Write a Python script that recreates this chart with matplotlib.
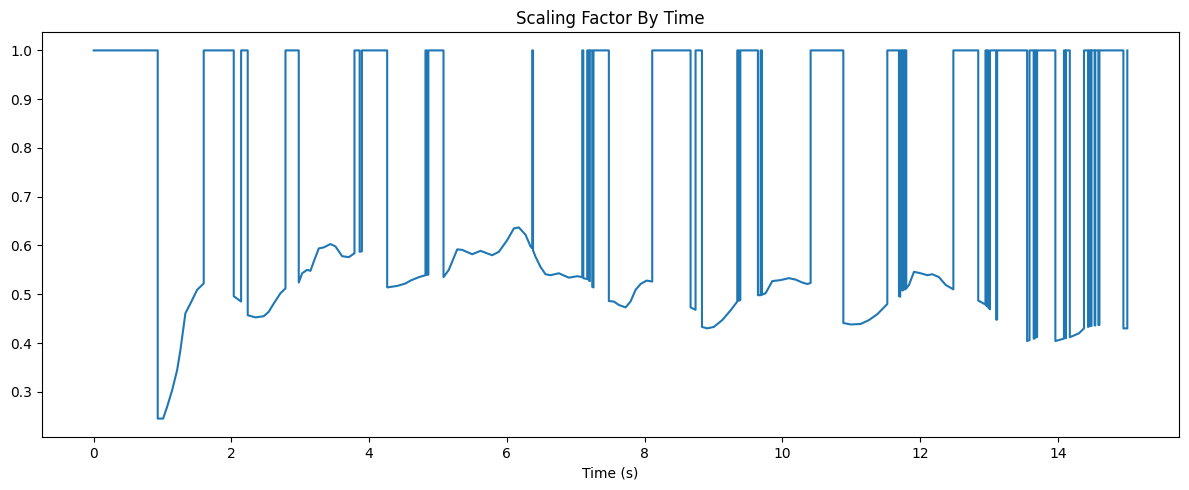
import matplotlib
matplotlib.use("Agg")
import matplotlib.pyplot as plt

time_s = [
    0.00, 0.93, 0.93, 1.008, 1.066, 1.139, 1.211, 1.259, 1.298, 1.332, 1.405, 1.502, 1.598, 1.598,
    2.034, 2.034, 2.141, 2.141, 2.237, 2.237, 2.349, 2.470, 2.542, 2.615, 2.712, 2.785, 2.785,
    2.978, 2.978, 3.027, 3.100, 3.148, 3.196, 3.269, 3.341, 3.438, 3.511, 3.608, 3.705, 3.787, 3.787,
    3.862, 3.862, 3.895, 3.895,
    4.262, 4.262, 4.407, 4.528, 4.601, 4.721, 4.818, 4.818, 4.838, 4.838, 4.860, 4.860,
    5.080, 5.080, 5.157, 5.279, 5.351, 5.497, 5.617, 5.787, 5.884, 6.005, 6.102, 6.174, 6.271, 6.344,
    6.368, 6.368, 6.380, 6.380, 6.416, 6.489, 6.561, 6.634, 6.755, 6.900, 7.022, 7.095, 7.095,
    7.110, 7.110, 7.167, 7.167, 7.191, 7.191, 7.205, 7.205, 7.240, 7.240, 7.258, 7.258,
    7.481, 7.481, 7.554, 7.627, 7.724, 7.796, 7.869, 7.942, 8.029, 8.111, 8.111,
    8.668, 8.668, 8.740, 8.740, 8.833, 8.833, 8.910, 9.006, 9.128, 9.249, 9.346, 9.346,
    9.370, 9.370, 9.390, 9.390, 9.646, 9.646, 9.685, 9.685, 9.705, 9.705,
    9.757, 9.855, 9.975, 10.096, 10.193, 10.290, 10.363, 10.411, 10.411,
    10.886, 10.886, 10.992, 11.137, 11.258, 11.379, 11.525, 11.525,
    11.694, 11.694, 11.712, 11.712, 11.740, 11.740, 11.752, 11.752, 11.775, 11.775, 11.786, 11.786,
    11.800, 11.800, 11.839, 11.912, 12.009, 12.106, 12.179, 12.276, 12.373, 12.484, 12.484,
    12.845, 12.845, 12.950, 12.950, 12.965, 12.965, 12.975, 12.975, 12.990, 12.990, 13.016, 13.016,
    13.105, 13.105, 13.120, 13.120,
    13.555, 13.555, 13.590, 13.590, 13.650, 13.650, 13.665, 13.665, 13.685, 13.685, 13.700, 13.700,
    13.965, 13.965, 14.090, 14.090, 14.110, 14.110, 14.120, 14.120, 14.175, 14.175,
    14.212, 14.309, 14.381, 14.381, 14.440, 14.440, 14.455, 14.455, 14.480, 14.480, 14.490, 14.490,
    14.535, 14.535, 14.545, 14.545, 14.590, 14.590, 14.605, 14.605,
    14.953, 14.953, 15.010, 15.010,
]

scaling_factor = [
    1.0, 1.0, 0.245, 0.245, 0.269, 0.303, 0.344, 0.385, 0.426, 0.461, 0.481, 0.509, 0.522, 1.0,
    1.0, 0.496, 0.485, 1.0, 1.0, 0.457, 0.4525, 0.455, 0.464, 0.481, 0.502, 0.512, 1.0,
    1.0, 0.524, 0.543, 0.550, 0.548, 0.567, 0.594, 0.596, 0.603, 0.598, 0.578, 0.576, 0.584, 1.0,
    1.0, 0.587, 0.588, 1.0,
    1.0, 0.514, 0.517, 0.522, 0.528, 0.535, 0.539, 1.0, 1.0, 0.540, 0.540, 1.0,
    1.0, 0.535, 0.550, 0.592, 0.591, 0.582, 0.589, 0.580, 0.587, 0.611, 0.635, 0.637, 0.622, 0.598,
    0.594, 1.0, 1.0, 0.590, 0.577, 0.556, 0.541, 0.539, 0.543, 0.534, 0.537, 0.535, 1.0,
    1.0, 0.533, 0.531, 1.0, 1.0, 0.528, 0.527, 1.0, 1.0, 0.515, 0.514, 1.0,
    1.0, 0.486, 0.485, 0.478, 0.473, 0.485, 0.509, 0.521, 0.528, 0.526, 1.0,
    1.0, 0.473, 0.468, 1.0, 1.0, 0.433, 0.430, 0.433, 0.447, 0.467, 0.485, 1.0,
    1.0, 0.487, 0.488, 1.0, 1.0, 0.498, 0.498, 1.0, 1.0, 0.499,
    0.502, 0.527, 0.529, 0.533, 0.530, 0.524, 0.521, 0.523, 1.0,
    1.0, 0.441, 0.438, 0.439, 0.447, 0.459, 0.480, 1.0,
    1.0, 0.496, 0.495, 1.0, 1.0, 0.508, 0.508, 1.0, 1.0, 0.510, 0.510, 1.0,
    1.0, 0.512, 0.519, 0.546, 0.543, 0.539, 0.541, 0.535, 0.519, 0.510, 1.0,
    1.0, 0.487, 0.479, 1.0, 1.0, 0.476, 0.476, 1.0, 1.0, 0.473, 0.469, 1.0,
    1.0, 0.448, 0.448, 1.0,
    1.0, 0.404, 0.406, 1.0, 1.0, 0.409, 0.409, 1.0, 1.0, 0.412, 0.412, 1.0,
    1.0, 0.404, 0.409, 1.0, 1.0, 0.410, 0.410, 1.0, 1.0, 0.412,
    0.414, 0.420, 0.430, 1.0, 1.0, 0.433, 0.434, 1.0, 1.0, 0.435, 0.435, 1.0,
    1.0, 0.436, 0.436, 1.0, 1.0, 0.437, 0.437, 1.0,
    1.0, 0.430, 0.430, 1.0,
]

fig = plt.figure(figsize=(11.89, 4.9), dpi=100)
ax = fig.add_subplot(111)
fig.subplots_adjust(left=42 / 1189, right=1179 / 1189, top=1 - 32 / 490, bottom=1 - 437 / 490)
ax.plot(time_s, scaling_factor, color="C0")
ax.set_title("Scaling Factor By Time")
ax.set_xlabel("Time (s)")
fig.savefig("out.png", dpi=100)
